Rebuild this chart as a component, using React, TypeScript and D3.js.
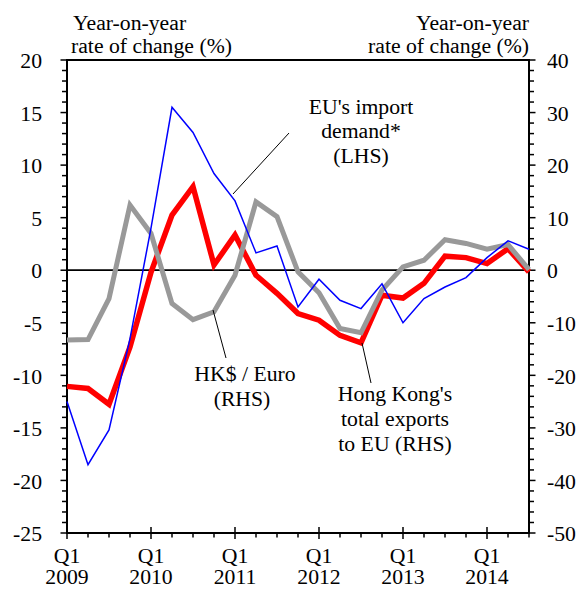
import React from "react";
import * as d3 from "d3";

// Quarters Q1 2009 .. Q3 2014
const quarters = [
  "2009Q1","2009Q2","2009Q3","2009Q4",
  "2010Q1","2010Q2","2010Q3","2010Q4",
  "2011Q1","2011Q2","2011Q3","2011Q4",
  "2012Q1","2012Q2","2012Q3","2012Q4",
  "2013Q1","2013Q2","2013Q3","2013Q4",
  "2014Q1","2014Q2","2014Q3",
];

// EU's import demand (LHS, %)
const euImportDemand = [
  -12.5, -18.5, -15.2, -6.5, 4.0, 15.5, 13.1, 9.2, 6.6, 1.65, 2.3, -3.5,
  -0.86, -2.86, -3.65, -1.3, -5.0, -2.7, -1.6, -0.7, 1.2, 2.8, 2.0,
];

// Hong Kong's total exports to EU (RHS, %)
const hkExportsToEU = [
  -22.1, -22.5, -25.5, -14.6, -0.4, 10.5, 15.9, 1.0, 6.7, -0.95, -4.4, -8.25,
  -9.5, -12.4, -13.8, -4.76, -5.3, -2.5, 2.67, 2.4, 1.27, 4.1, -0.3,
];

// HK$ / Euro (RHS, %)
const hkdEuro = [
  -13.3, -13.2, -5.4, 12.4, 7.0, -6.35, -9.4, -7.9, -0.95, 13.0, 10.2, -0.3,
  -4.3, -11.1, -11.9, -3.8, 0.63, 1.9, 5.8, 5.1, 4.0, 4.9, 0.1,
];

const leftTicks = [20, 15, 10, 5, 0, -5, -10, -15, -20, -25];
const rightTicks = [40, 30, 20, 10, 0, -10, -20, -30, -40, -50];
const yearLabels = ["2009", "2010", "2011", "2012", "2013", "2014"];

const W = 583;
const H = 589;
const M = { left: 67, right: 529, top: 60, bottom: 533 };
const FONT = '"Liberation Serif", "Times New Roman", Times, serif';
const FS = 20.5;
const SX = 1.06;

type TProps = {
  x: number;
  y: number;
  anchor?: "start" | "middle" | "end";
  dy?: string;
  children: React.ReactNode;
};

function T({ x, y, anchor = "start", dy, children }: TProps) {
  return (
    <text transform={`translate(${x},${y}) scale(${SX},1)`} textAnchor={anchor} dy={dy}>
      {children}
    </text>
  );
}

export default function App() {
  const x = d3.scaleLinear().domain([0, quarters.length - 1]).range([M.left, M.right]);
  const yL = d3.scaleLinear().domain([-25, 20]).range([M.bottom, M.top]);
  const yR = d3.scaleLinear().domain([-50, 40]).range([M.bottom, M.top]);

  const lineL = d3.line<number>().x((_, i) => x(i)).y((d) => yL(d));
  const lineR = d3.line<number>().x((_, i) => x(i)).y((d) => yR(d));

  const leftMinor = d3.range(-25, 21, 1);
  const rightMinor = d3.range(-50, 41, 2);
  const xMinor = d3.range(0, quarters.length);

  return (
    <svg
      width={W}
      height={H}
      style={{ position: "absolute", left: 0, top: 0, background: "#fff", fontFamily: FONT, fontSize: FS }}
    >
      {/* axis titles */}
      <T x={73} y={30}>Year-on-year</T>
      <T x={71} y={53}>rate of change (%)</T>
      <T x={529} y={30} anchor="end">Year-on-year</T>
      <T x={529} y={53} anchor="end">rate of change (%)</T>

      {/* left axis ticks */}
      {leftMinor.map((v) => (
        <line
          key={"lm" + v}
          x1={v % 5 === 0 ? M.left - 6.5 : M.left - 5}
          x2={M.left}
          y1={yL(v)}
          y2={yL(v)}
          stroke="#000"
          strokeWidth={1.5}
        />
      ))}
      {leftTicks.map((v) => (
        <T key={"lt" + v} x={42} y={yL(v) + 1} dy="0.35em" anchor="end">
          {v}
        </T>
      ))}

      {/* right axis ticks */}
      {rightMinor.map((v) => (
        <line
          key={"rm" + v}
          x1={M.right}
          x2={v % 10 === 0 ? M.right + 6.5 : M.right + 5}
          y1={yR(v)}
          y2={yR(v)}
          stroke="#000"
          strokeWidth={1.5}
        />
      ))}
      {rightTicks.map((v) => (
        <T key={"rt" + v} x={547} y={yR(v) + 1} dy="0.35em" anchor="start">
          {v}
        </T>
      ))}

      {/* x axis ticks */}
      {xMinor.map((i) => (
        <line
          key={"xm" + i}
          x1={x(i)}
          x2={x(i)}
          y1={i % 4 === 0 ? M.bottom - 6 : M.bottom}
          y2={i % 4 === 0 ? M.bottom + 6 : M.bottom + 4.5}
          stroke="#000"
          strokeWidth={1.5}
        />
      ))}
      {yearLabels.map((yr, k) => (
        <g key={yr}>
          <T x={x(k * 4)} y={563} anchor="middle">Q1</T>
          <T x={x(k * 4)} y={584} anchor="middle">{yr}</T>
        </g>
      ))}

      {/* frame */}
      <rect
        x={M.left}
        y={M.top}
        width={M.right - M.left}
        height={M.bottom - M.top}
        fill="none"
        stroke="#000"
        strokeWidth={2}
      />
      {/* zero line */}
      <line x1={M.left} x2={M.right} y1={yL(0)} y2={yL(0)} stroke="#000" strokeWidth={1.8} />

      {/* series */}
      <path d={lineR(hkExportsToEU) || ""} fill="none" stroke="#ff0000" strokeWidth={5.5} strokeLinejoin="miter" />
      <path d={lineR(hkdEuro) || ""} fill="none" stroke="#999999" strokeWidth={5} strokeLinejoin="miter" />
      <path d={lineL(euImportDemand) || ""} fill="none" stroke="#0000ff" strokeWidth={1.5} />

      {/* annotations */}
      <line x1={233} y1={194} x2={289} y2={133} stroke="#000" strokeWidth={1} />
      <T x={361} y={114} anchor="middle">EU's import</T>
      <T x={361} y={138} anchor="middle">demand*</T>
      <T x={361} y={163} anchor="middle">(LHS)</T>

      <line x1={213} y1={310} x2={226} y2={358} stroke="#000" strokeWidth={1} />
      <T x={245} y={381} anchor="middle">HK$ / Euro</T>
      <T x={242} y={406} anchor="middle">(RHS)</T>

      <line x1={362} y1={343} x2={371} y2={383} stroke="#000" strokeWidth={1} />
      <T x={395} y={401} anchor="middle">Hong Kong's</T>
      <T x={395} y={426} anchor="middle">total exports</T>
      <T x={395} y={451} anchor="middle">to EU (RHS)</T>
    </svg>
  );
}
